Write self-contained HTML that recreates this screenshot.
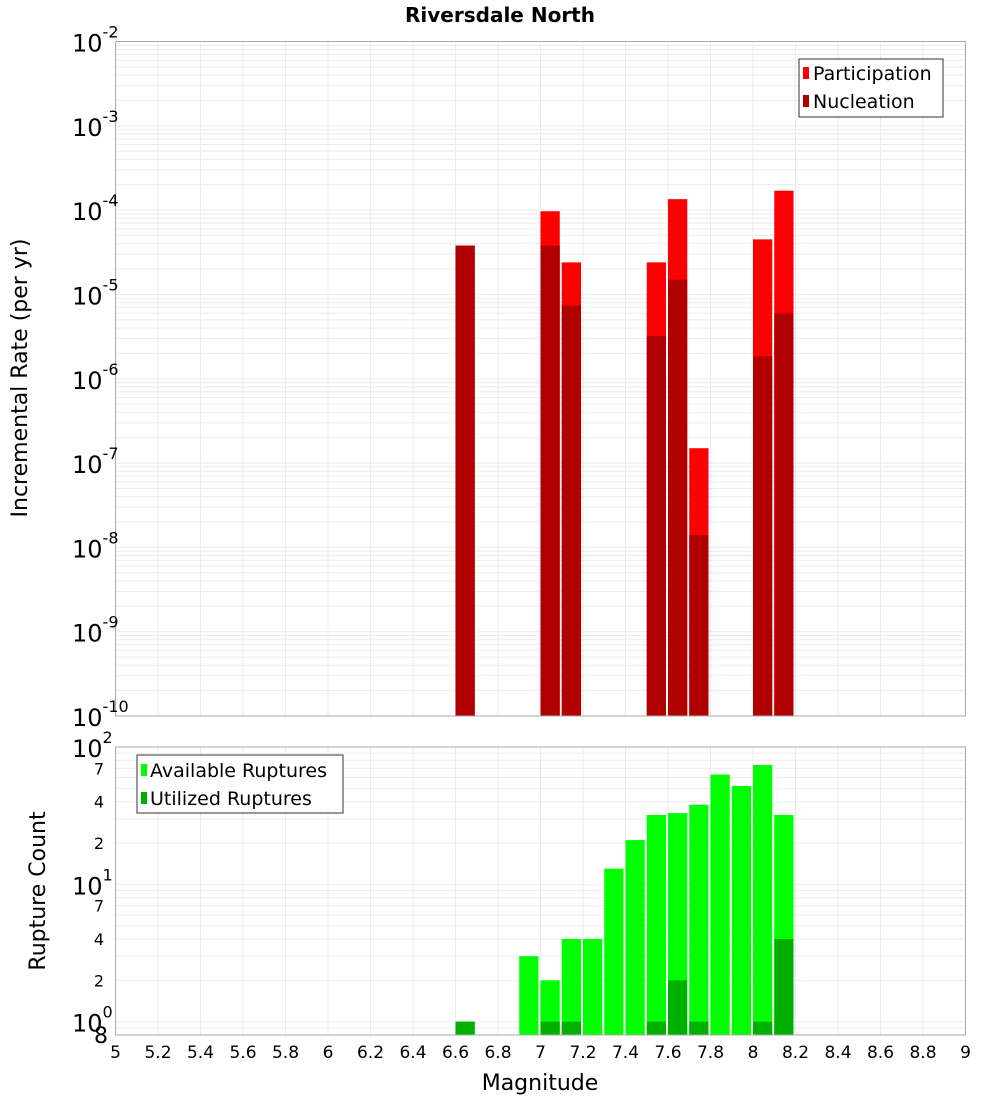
<!DOCTYPE html>
<html><head><meta charset="utf-8"><style>
body{margin:0;background:#fff;}
svg text{font-family:"DejaVu Sans","Liberation Sans",sans-serif;fill:#000;}
</style></head><body>
<svg id="chart" width="1000" height="1100" xmlns="http://www.w3.org/2000/svg">
<text x="500" y="22" text-anchor="middle" font-size="20" font-weight="bold">Riversdale North</text>
<g id="topplot"></g>
<g id="botplot"></g>
<text transform="translate(27,378) rotate(-90)" text-anchor="middle" font-size="22">Incremental Rate (per yr)</text>
<text transform="translate(45,891) rotate(-90)" text-anchor="middle" font-size="22">Rupture Count</text>
<text x="540" y="1090" text-anchor="middle" font-size="22">Magnitude</text>
<g>
<rect x="799" y="59" width="144" height="58" fill="#fff" stroke="#333"/>
<rect x="803" y="67" width="6" height="12" fill="#ff0000"/><text x="813" y="80" font-size="19">Participation</text>
<rect x="803" y="95" width="6" height="12" fill="#b00000"/><text x="813" y="108" font-size="19">Nucleation</text>
</g>
<g>
<rect x="137" y="755" width="206" height="58" fill="#fff" stroke="#333"/>
<rect x="141" y="764" width="6" height="12" fill="#00ff00"/><text x="150" y="777" font-size="19">Available Ruptures</text>
<rect x="141" y="792" width="6" height="12" fill="#00b000"/><text x="150" y="805" font-size="19">Utilized Ruptures</text>
</g>
</svg>
<script>
const mags=[6.6,7.0,7.1,7.5,7.6,7.7,8.0,8.1];
const participation=[3.8e-5,9.7e-5,2.4e-5,2.4e-5,1.35e-4,1.5e-7,4.5e-5,1.7e-4];
const nucleation=[3.8e-5,3.8e-5,7.4e-6,3.2e-6,1.5e-5,1.4e-8,1.85e-6,6e-6];
const countMags=[6.6,6.9,7.0,7.1,7.2,7.3,7.4,7.5,7.6,7.7,7.8,7.9,8.0,8.1];
const available=[1,3,2,4,4,13,21,32,33,38,63,52,74,32];
const utilized=[1,0,1,1,0,0,0,1,2,1,0,0,1,4];
const xTicks=[5,5.2,5.4,5.6,5.8,6,6.2,6.4,6.6,6.8,7,7.2,7.4,7.6,7.8,8,8.2,8.4,8.6,8.8,9];
const rateExps=[-2,-3,-4,-5,-6,-7,-8,-9,-10];
const countTickVals=[100,70,40,20,10,7,4,2,1,0.8];
const countTickLabels=["10^2","7","4","2","10^1","7","4","2","10^0","8"];
const NS="http://www.w3.org/2000/svg";
const L=115.5,R=965.5;
const X=m=>L+(m-5)/4*(R-L);
const T0=41.5,T1=716;
const YT=v=>T0+(-2-Math.log10(v))/8*(T1-T0);
const B0=747,B1=1035,bmin=Math.log10(0.8);
const YB=v=>B0+(2-Math.log10(v))/(2-bmin)*(B1-B0);
function mk(p,t,a){const e=document.createElementNS(NS,t);for(const k in a)e.setAttribute(k,a[k]);p.appendChild(e);return e;}
const topG=document.getElementById('topplot'),botG=document.getElementById('botplot');
function frame(g,y0,y1,gy){
  mk(g,'rect',{x:L,y:y0,width:R-L,height:y1-y0,fill:'#fff'});
  gy.forEach(y=>{const l=mk(g,'line',{x1:L,x2:R,y1:y,y2:y,stroke:'#ebebeb','stroke-width':1});
  
  });
  xTicks.forEach(m=>{const l=mk(g,'line',{x1:X(m),x2:X(m),y1:y0,y2:y1,stroke:'#ebebeb','stroke-width':1});
  
  });
}
let gt=[];for(let e=-10;e<-2;e++)for(let k=1;k<10;k++)gt.push(YT(k*Math.pow(10,e)));
frame(topG,T0,T1,gt);
let gb=[];[0.8,0.9].forEach(v=>gb.push(YB(v)));for(let e=0;e<2;e++)for(let k=1;k<10;k++)gb.push(YB(k*Math.pow(10,e)));
frame(botG,B0,B1,gb);
const bw=X(5.1)-X(5)-2;
mags.forEach((m,i)=>{
  let r=mk(topG,'rect',{x:X(m),y:YT(participation[i]),width:bw,height:T1-YT(participation[i]),fill:'#ff0000'});
  
  
  r=mk(topG,'rect',{x:X(m),y:YT(nucleation[i]),width:bw,height:T1-YT(nucleation[i]),fill:'#b00000'});
  
  
});
countMags.forEach((m,i)=>{
  let r=mk(botG,'rect',{x:X(m),y:YB(available[i]),width:bw,height:B1-YB(available[i]),fill:'#00ff00'});
  
  
  if(utilized[i]>0){r=mk(botG,'rect',{x:X(m),y:YB(utilized[i]),width:bw,height:B1-YB(utilized[i]),fill:'#00b000'});
  
  }
});
mk(topG,'rect',{x:L,y:T0,width:R-L,height:T1-T0,fill:'none',stroke:'#aaa'});
mk(botG,'rect',{x:L,y:B0,width:R-L,height:B1-B0,fill:'none',stroke:'#aaa'});
rateExps.forEach(e=>{
  const y=YT(Math.pow(10,e));
  const t=mk(topG,'text',{x:72,y:y+10,'font-size':24});
  
  
  t.textContent='10';
  const s=mk(t,'tspan',{dy:-14,'font-size':16});s.textContent=String(e);
});
countTickVals.forEach((v,i)=>{
  const y=YB(v),lab=countTickLabels[i];
  let t;
  if(lab.startsWith('10^')){
    t=mk(botG,'text',{x:72,y:y+10,'font-size':24});t.textContent='10';
    const s=mk(t,'tspan',{dy:-14,'font-size':16});s.textContent=lab.slice(3);
  }else if(v<1){
    t=mk(botG,'text',{x:108,y:y+8,'font-size':22,'text-anchor':'end'});t.textContent=lab;
  }else{
    t=mk(botG,'text',{x:104,y:y+6,'font-size':16,'text-anchor':'end','fill':'#222'});t.textContent=lab;
  }
  
  
});
xTicks.forEach(m=>{
  const t=mk(botG,'text',{x:X(m),y:1058,'font-size':17,'text-anchor':'middle'});
  
  
  t.textContent=String(+m.toFixed(1));
});
</script>
</body></html>
